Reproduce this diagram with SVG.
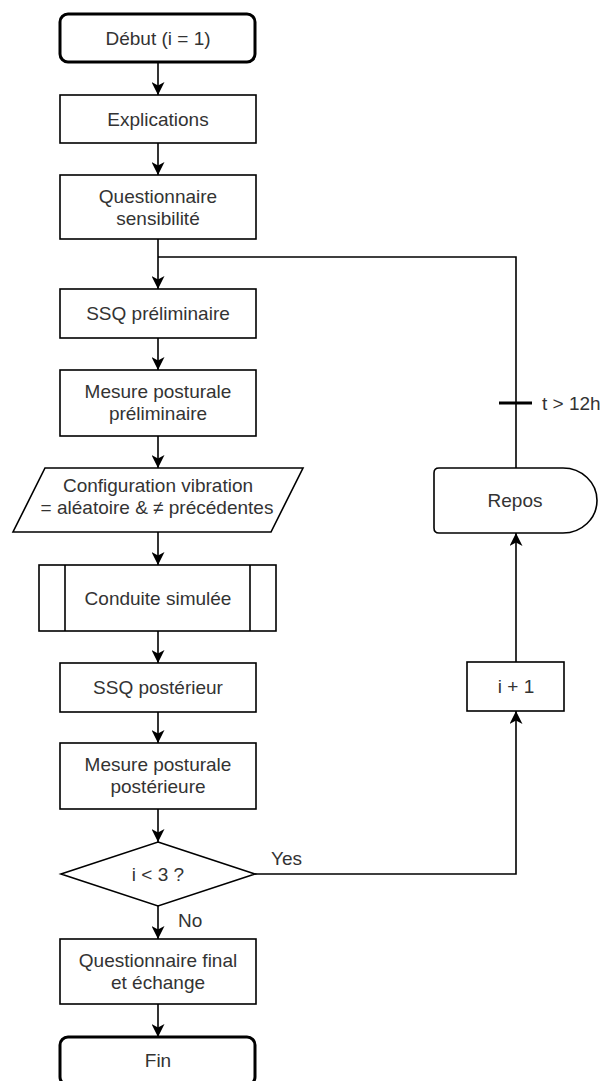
<svg xmlns="http://www.w3.org/2000/svg" width="605" height="1081" viewBox="0 0 605 1081">
  <style>
    .shape { fill: #ffffff; stroke: #000000; stroke-width: 1.6; }
    .term { fill: #ffffff; stroke: #000000; stroke-width: 3; }
    .edge { fill: none; stroke: #000000; stroke-width: 1.6; }
    .lbl { font-family: "Liberation Sans", Arial, Helvetica, sans-serif; font-size: 19px; fill: #333333; text-anchor: middle; }
    .lbl-l { font-family: "Liberation Sans", Arial, Helvetica, sans-serif; font-size: 19px; fill: #333333; text-anchor: start; }
  </style>
  <defs>
    <marker id="arrow" markerUnits="userSpaceOnUse" viewBox="0 0 13 13" refX="13" refY="6.5" markerWidth="13" markerHeight="13" orient="auto">
      <path d="M0,0 L13,6.5 L0,13 L3.5,6.5 Z" fill="#000000"/>
    </marker>
  </defs>
  <rect width="605" height="1081" fill="#ffffff"/>

  <g id="connectors">
    <path class="edge" d="M158,62 V95" marker-end="url(#arrow)"/>
    <path class="edge" d="M158,143 V175" marker-end="url(#arrow)"/>
    <path class="edge" d="M158,239 V289" marker-end="url(#arrow)"/>
    <path class="edge" d="M158,338 V370" marker-end="url(#arrow)"/>
    <path class="edge" d="M158,436 V468" marker-end="url(#arrow)"/>
    <path class="edge" d="M158,532 V565" marker-end="url(#arrow)"/>
    <path class="edge" d="M158,631 V663" marker-end="url(#arrow)"/>
    <path class="edge" d="M158,712 V743" marker-end="url(#arrow)"/>
    <path class="edge" d="M158,809 V842" marker-end="url(#arrow)"/>
    <path class="edge" d="M158,906 V939" marker-end="url(#arrow)"/>
    <text class="lbl-l" x="178" y="927">No</text>
    <path class="edge" d="M158,1004 V1037" marker-end="url(#arrow)"/>
    <path class="edge" d="M255,874 H516 V711" marker-end="url(#arrow)"/>
    <text class="lbl-l" x="271" y="865">Yes</text>
    <path class="edge" d="M516,662 V533" marker-end="url(#arrow)"/>
    <path class="edge" d="M516,468 V257 H158"/>
    <line x1="499" y1="403" x2="532" y2="403" stroke="#000000" stroke-width="3"/>
    <text class="lbl-l" x="542" y="410">t &gt; 12h</text>
  </g>

  <g id="debut">
    <rect class="term" x="60" y="14" width="195" height="48" rx="8"/>
    <text class="lbl" x="158" y="45">Début (i = 1)</text>
  </g>
  <g id="explications">
    <rect class="shape" x="60" y="95" width="196" height="48"/>
    <text class="lbl" x="158" y="126">Explications</text>
  </g>
  <g id="questionnaire-sensibilite">
    <rect class="shape" x="60" y="175" width="196" height="64"/>
    <text class="lbl" x="158" y="203">Questionnaire</text>
    <text class="lbl" x="158" y="225">sensibilité</text>
  </g>
  <g id="ssq-preliminaire">
    <rect class="shape" x="60" y="289" width="196" height="49"/>
    <text class="lbl" x="158" y="320">SSQ préliminaire</text>
  </g>
  <g id="mesure-preliminaire">
    <rect class="shape" x="60" y="370" width="196" height="66"/>
    <text class="lbl" x="158" y="398">Mesure posturale</text>
    <text class="lbl" x="158" y="420">préliminaire</text>
  </g>
  <g id="configuration">
    <polygon class="shape" points="45,468 303,468 271,532 13,532"/>
    <text class="lbl" x="158" y="492">Configuration vibration</text>
    <text class="lbl" x="157" y="514">= aléatoire &amp; ≠ précédentes</text>
  </g>
  <g id="conduite">
    <rect class="shape" x="39" y="565" width="237" height="66"/>
    <line class="edge" x1="65" y1="565" x2="65" y2="631"/>
    <line class="edge" x1="250" y1="565" x2="250" y2="631"/>
    <text class="lbl" x="158" y="605">Conduite simulée</text>
  </g>
  <g id="ssq-posterieur">
    <rect class="shape" x="60" y="663" width="196" height="49"/>
    <text class="lbl" x="158" y="694">SSQ postérieur</text>
  </g>
  <g id="mesure-posterieure">
    <rect class="shape" x="60" y="743" width="196" height="66"/>
    <text class="lbl" x="158" y="771">Mesure posturale</text>
    <text class="lbl" x="158" y="793">postérieure</text>
  </g>
  <g id="decision">
    <polygon class="shape" points="158,842 255,874 158,906 61,874"/>
    <text class="lbl" x="158" y="881">i &lt; 3 ?</text>
  </g>
  <g id="questionnaire-final">
    <rect class="shape" x="60" y="939" width="196" height="65"/>
    <text class="lbl" x="158" y="967">Questionnaire final</text>
    <text class="lbl" x="158" y="989">et échange</text>
  </g>
  <g id="fin">
    <rect class="term" x="60" y="1037" width="195" height="48" rx="8"/>
    <text class="lbl" x="158" y="1067">Fin</text>
  </g>
  <g id="increment">
    <rect class="shape" x="467" y="662" width="97" height="49"/>
    <text class="lbl" x="516" y="693">i + 1</text>
  </g>
  <g id="repos">
    <path class="shape" d="M439,468 H563 A34,32.5 0 0 1 563,533 H439 Q434,533 434,528 V473 Q434,468 439,468 Z"/>
    <text class="lbl" x="515" y="507">Repos</text>
  </g>
</svg>
